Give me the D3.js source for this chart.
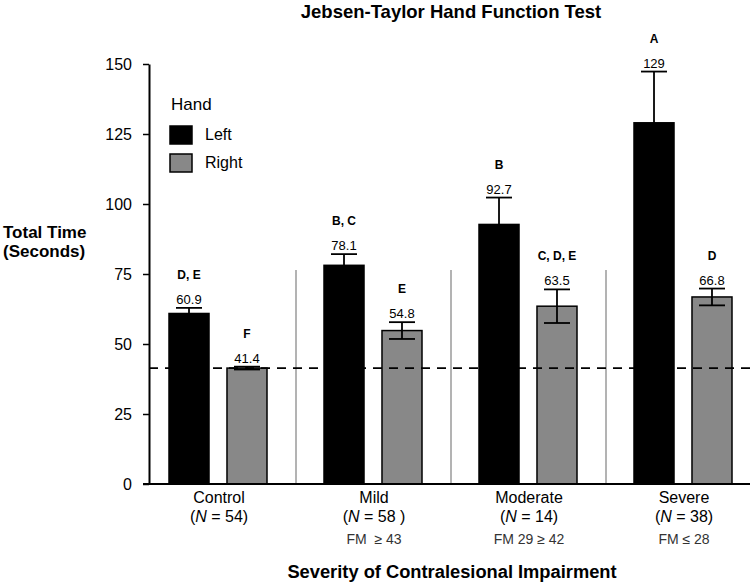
<!DOCTYPE html>
<html>
<head>
<meta charset="utf-8">
<script src="https://cdn.jsdelivr.net/npm/d3@7"></script>
<style>
  body { margin: 0; background: #fff; }
  svg { display: block; font-family: "Liberation Sans", Arial, Helvetica, sans-serif; }
</style>
</head>
<body>
<svg id="chart" width="756" height="588"></svg>
<script>
const groups = ["Control", "Mild", "Moderate", "Severe"];
const groupN = ["54", "58 ", "14", "38"];
const groupFM = ["", "FM  \u2265 43", "FM 29 \u2265 42", "FM \u2264 28"];
const hands = ["Left", "Right"];
const leftValues = [60.9, 78.1, 92.7, 129];
const rightValues = [41.4, 54.8, 63.5, 66.8];
const leftLabels = ["60.9", "78.1", "92.7", "129"];
const rightLabels = ["41.4", "54.8", "63.5", "66.8"];
const leftErr = [2.0, 4.0, 9.6, 18.3];
const rightErr = [0.5, 3.0, 6.0, 3.0];
const leftLetters = ["D, E", "B, C", "B", "A"];
const rightLetters = ["F", "E", "C, D, E", "D"];
const yTicks = [0, 25, 50, 75, 100, 125, 150];
const referenceLine = 41.4;

const colors = { Left: "#000000", Right: "#888888" };

const svg = d3.select("#chart");

const x0 = d3.scaleBand().domain(groups).range([141, 761]).padding(0);
const x1 = d3.scaleBand().domain(hands).range([28, 126]).paddingInner(0.31).paddingOuter(0);
const y = d3.scaleLinear().domain([0, 150]).range([484, 64]);

const data = [];
groups.forEach((g, i) => {
  data.push({ group: g, hand: "Left", value: leftValues[i], err: leftErr[i], label: leftLabels[i], letters: leftLetters[i] });
  data.push({ group: g, hand: "Right", value: rightValues[i], err: rightErr[i], label: rightLabels[i], letters: rightLetters[i] });
});

// Title
svg.append("text")
  .attr("x", 451).attr("y", 18)
  .attr("text-anchor", "middle")
  .attr("font-weight", "bold").attr("font-size", 18.5)
  .text("Jebsen-Taylor Hand Function Test");

// Separators between groups
svg.append("g").selectAll("line")
  .data(groups.slice(1))
  .join("line")
  .attr("x1", d => x0(d)).attr("x2", d => x0(d))
  .attr("y1", 270).attr("y2", y(0))
  .attr("stroke", "#9a9a9a").attr("stroke-width", 1.5);

// Bars
const gBars = svg.append("g");
gBars.selectAll("rect")
  .data(data)
  .join("rect")
  .attr("x", d => x0(d.group) + x1(d.hand))
  .attr("width", x1.bandwidth())
  .attr("y", d => y(d.value))
  .attr("height", d => y(0) - y(d.value))
  .attr("fill", d => colors[d.hand])
  .attr("stroke", "#000").attr("stroke-width", 1.5);

// Reference dashed line
svg.append("line")
  .attr("x1", 149).attr("x2", 750)
  .attr("y1", y(referenceLine)).attr("y2", y(referenceLine))
  .attr("stroke", "#000").attr("stroke-width", 1.8)
  .attr("stroke-dasharray", "9,7");

// Error bars
const capW = 13;
const gErr = svg.append("g").attr("stroke", "#000").attr("stroke-width", 1.8);
data.forEach(d => {
  const cx = x0(d.group) + x1(d.hand) + x1.bandwidth() / 2;
  const yt = y(d.value + d.err), yb = y(d.value - d.err);
  gErr.append("line").attr("x1", cx).attr("x2", cx).attr("y1", yt).attr("y2", yb);
  gErr.append("line").attr("x1", cx - capW).attr("x2", cx + capW).attr("y1", yt).attr("y2", yt);
  gErr.append("line").attr("x1", cx - capW).attr("x2", cx + capW).attr("y1", yb).attr("y2", yb);
});

// Value labels and letters
const gLab = svg.append("g");
data.forEach(d => {
  const cx = x0(d.group) + x1(d.hand) + x1.bandwidth() / 2;
  const yt = y(d.value + d.err);
  gLab.append("text")
    .attr("x", cx).attr("y", yt - 4)
    .attr("text-anchor", "middle").attr("font-size", 13)
    .text(d.label);
  gLab.append("text")
    .attr("x", cx).attr("y", yt - 29)
    .attr("text-anchor", "middle").attr("font-size", 12).attr("font-weight", "bold")
    .text(d.letters);
});

// Y axis
const yAxis = svg.append("g")
  .attr("transform", "translate(149,0)")
  .call(d3.axisLeft(y).tickValues(yTicks).tickSize(6).tickPadding(11).tickSizeOuter(0));
yAxis.select(".domain").attr("stroke-width", 2);
yAxis.selectAll(".tick line").attr("stroke-width", 1.5);
yAxis.selectAll(".tick text").attr("font-size", 16).attr("fill", "#000")
  .attr("font-family", "'Liberation Sans', Arial, sans-serif");

// X axis baseline
svg.append("line")
  .attr("x1", 143).attr("x2", 750)
  .attr("y1", y(0)).attr("y2", y(0))
  .attr("stroke", "#000").attr("stroke-width", 2);

// X tick labels
const gX = svg.append("g");
groups.forEach((g, i) => {
  const cx = x0(g) + x0.bandwidth() / 2 + 0.5;
  gX.append("text").attr("x", cx).attr("y", 503)
    .attr("text-anchor", "middle").attr("font-size", 16).text(g);
  const t = gX.append("text").attr("x", cx).attr("y", 522)
    .attr("text-anchor", "middle").attr("font-size", 16);
  t.append("tspan").text("(");
  t.append("tspan").attr("font-style", "italic").text("N");
  t.append("tspan").text(" = " + groupN[i] + ")");
  if (groupFM[i]) {
    gX.append("text").attr("x", cx).attr("y", 544)
      .attr("text-anchor", "middle").attr("font-size", 14).attr("fill", "#333")
      .attr("xml:space", "preserve")
      .text(groupFM[i]);
  }
});

// X title
svg.append("text")
  .attr("x", 452).attr("y", 578)
  .attr("text-anchor", "middle")
  .attr("font-weight", "bold").attr("font-size", 18.3)
  .text("Severity of Contralesional Impairment");

// Y title
const yt = svg.append("text").attr("font-weight", "bold").attr("font-size", 17);
yt.append("tspan").attr("x", 3).attr("y", 238).text("Total Time");
yt.append("tspan").attr("x", 3).attr("y", 257).text("(Seconds)");

// Legend
const leg = svg.append("g");
leg.append("text").attr("x", 171).attr("y", 110).attr("font-size", 17).text("Hand");
hands.forEach((h, i) => {
  const yy = 126 + i * 28;
  leg.append("rect").attr("x", 170).attr("y", yy).attr("width", 22).attr("height", 18)
    .attr("fill", colors[h]).attr("stroke", "#000").attr("stroke-width", 1.5);
  leg.append("text").attr("x", 205).attr("y", yy + 14).attr("font-size", 16).text(h);
});
</script>
</body>
</html>
